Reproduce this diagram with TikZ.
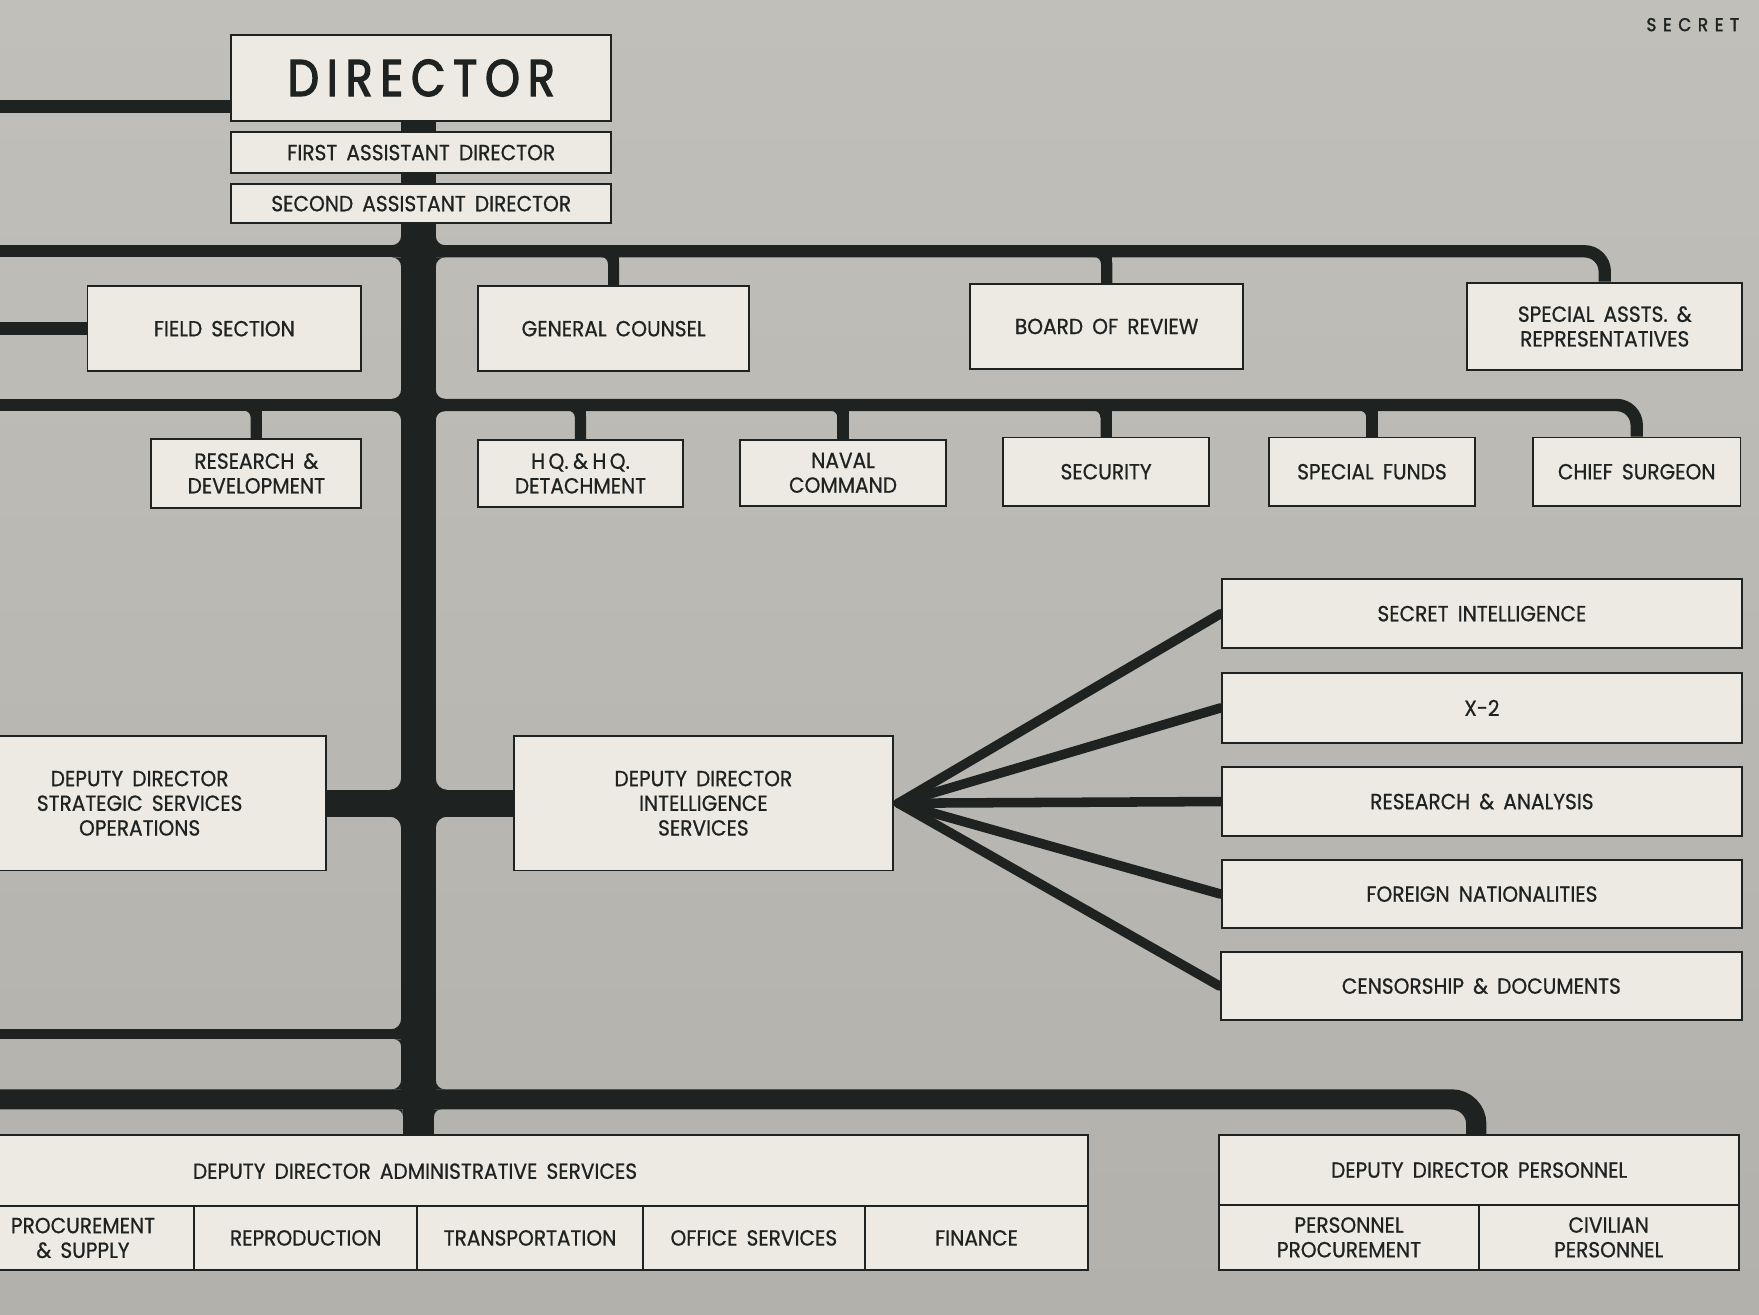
\documentclass[tikz,border=0pt]{standalone}
\usepackage{fontspec}
\setmainfont{Poppins}[WordSpace=1.7, FakeBold=0.7, FakeStretch=0.92]
\newfontfamily\headfont{Poppins}[FakeBold=2.6, FakeStretch=0.86]
\newfontfamily\stampfont{Poppins}[FakeBold=2, FakeStretch=0.9]
\usetikzlibrary{calc}
\definecolor{paper}{HTML}{B3B1AB}
\definecolor{paperlight}{HTML}{C1BFB9}
\definecolor{card}{HTML}{ECEAE2}
\definecolor{ink}{HTML}{1E2220}
\pgfdeclarelayer{paperlayer}
\pgfdeclarelayer{wires}
\pgfsetlayers{paperlayer,wires,main}
% concave fillet where a bar meets the trunk: corner x, corner y, x-direction, y-direction, radius
\newcommand\jfil[5]{\fill[ink] (#1,#2) -- ({#1+(#3)*(#5)},#2) .. controls ({#1+(#3)*(#5)*0.448},#2) and (#1,{#2+(#4)*(#5)*0.448}) .. (#1,{#2+(#4)*(#5)}) -- cycle;}
\newcommand\lbl{\fontsize{19.5}{22}\selectfont}
\tikzset{
  box/.style={draw=ink, line width=1.7pt, fill=card, inner sep=0pt, align=center, text=ink, font=\lbl},
  txt/.style={inner sep=0pt, align=center, text=ink, font=\lbl},
  trunkline/.style={draw=ink, line width=31pt},
  footline/.style={draw=ink, line width=28pt},
  busline/.style={draw=ink, line width=11pt},
  twig/.style={draw=ink, line width=10pt},
  feed/.style={draw=ink, line width=12pt},
  heavybar/.style={draw=ink, line width=24pt},
  fanline/.style={draw=ink, line width=8.5pt, line cap=round},
  thinbar/.style={draw=ink, line width=9pt},
  basebar/.style={draw=ink, line width=18pt},
}
\begin{document}
\begin{tikzpicture}[x=1pt,y=-1pt]
\useasboundingbox (0,0) rectangle (1568,1172);
\clip (0,0) rectangle (1568,1172);
\begin{pgfonlayer}{paperlayer}
  \shade[top color=paperlight, bottom color=paper] (0,0) rectangle (1568,1172);
\end{pgfonlayer}

\node[text=ink, font=\stampfont\fontsize{16.5}{16.5}\selectfont] (secret) at (1509,22)
  {S\kern6pt E\kern6pt C\kern6pt R\kern6pt E\kern6pt T};

% director group
\node[box, minimum width=339pt, minimum height=77pt, font=\headfont\fontsize{46}{46}\selectfont] (DIR) at (375.5,69.5)
  {D\kern7pt I\kern7pt R\kern7pt E\kern7pt C\kern7pt T\kern7pt O\kern7pt R};
\node[box, minimum width=339pt, minimum height=36pt] (FAD) at (375.5,136) {FIRST ASSISTANT DIRECTOR};
\node[box, minimum width=339pt, minimum height=35pt] (SAD) at (375.5,181.5) {SECOND ASSISTANT DIRECTOR};

% first row
\node[box, minimum width=244pt, minimum height=76pt] (FS) at (200,293) {FIELD SECTION};
\node[box, minimum width=242pt, minimum height=76pt] (GC) at (547,293) {GENERAL COUNSEL};
\node[box, minimum width=243pt, minimum height=76pt] (BR) at (986.5,291) {BOARD OF REVIEW};
\node[box, minimum width=245pt, minimum height=78pt] (SA) at (1430.5,291) {SPECIAL ASSTS. \&\\REPRESENTATIVES};

% second row
\node[box, minimum width=187pt, minimum height=62pt] (RD) at (228.5,422) {RESEARCH \&\\DEVELOPMENT};
\node[box, minimum width=183pt, minimum height=60pt] (HQ) at (517.5,422) {H\kern3pt Q.\kern4pt\&\kern4pt H\kern3pt Q.\\DETACHMENT};
\node[box, minimum width=183pt, minimum height=59pt] (NC) at (751.5,421.5) {NAVAL\\COMMAND};
\node[box, minimum width=184pt, minimum height=61pt] (SE) at (986,420.5) {SECURITY};
\node[box, minimum width=184pt, minimum height=61pt] (SF) at (1223,420.5) {SPECIAL FUNDS};
\node[box, minimum width=185pt, minimum height=61pt] (CS) at (1459,420.5) {CHIEF SURGEON};

% deputy directors
\node[box, minimum width=333pt, minimum height=120pt] (SSO) at (124.5,716) {DEPUTY DIRECTOR\\STRATEGIC SERVICES\\OPERATIONS};
\node[box, minimum width=338pt, minimum height=120pt] (DIS) at (627,716) {DEPUTY DIRECTOR\\INTELLIGENCE\\SERVICES};

% intelligence branches
\node[box, minimum width=464pt, minimum height=62pt] (SI) at (1321,547) {SECRET INTELLIGENCE};
\node[box, minimum width=464pt, minimum height=62pt] (X2) at (1321,631) {X-2};
\node[box, minimum width=464pt, minimum height=61pt] (RA) at (1321,714.5) {RESEARCH \& ANALYSIS};
\node[box, minimum width=464pt, minimum height=60pt] (FN) at (1321,797) {FOREIGN NATIONALITIES};
\node[box, minimum width=465pt, minimum height=60pt] (CD) at (1320.5,879) {CENSORSHIP \& DOCUMENTS};

% administrative services
\node[box, minimum width=973pt, minimum height=63pt] (ADM) at (483.5,1043.5) {};
\node[txt] (ADMt) at (370,1044) {DEPUTY DIRECTOR ADMINISTRATIVE SERVICES};
\node[box, minimum width=176pt, minimum height=57pt] (PS) at (85,1103.5) {};
\node[txt] (PSt) at (74,1103.5) {PROCUREMENT\\\& SUPPLY};
\node[box, minimum width=199pt, minimum height=57pt] (REP) at (272.5,1103.5) {REPRODUCTION};
\node[box, minimum width=201pt, minimum height=57pt] (TRA) at (472.5,1103.5) {TRANSPORTATION};
\node[box, minimum width=198pt, minimum height=57pt] (OFF) at (672,1103.5) {OFFICE SERVICES};
\node[box, minimum width=199pt, minimum height=57pt] (FIN) at (870.5,1103.5) {FINANCE};

% personnel
\node[box, minimum width=463pt, minimum height=62pt] (PER) at (1318.5,1043) {DEPUTY DIRECTOR PERSONNEL};
\node[box, minimum width=231pt, minimum height=58pt] (PP) at (1202.5,1103) {PERSONNEL\\PROCUREMENT};
\node[box, minimum width=232pt, minimum height=58pt] (CP) at (1434,1103) {CIVILIAN\\PERSONNEL};

\begin{pgfonlayer}{wires}
  % trunk
  \coordinate (tt) at (373,108);
  \coordinate (tf) at (373,980);
  \coordinate (tb) at (ADM.north -| tt);
  \draw[trunkline] (tt) -- (tf);
  \draw[footline] (tf) -- (tb);

  % feeds entering from the left edge
  \coordinate (dl) at (-5,95);
  \draw[feed] (dl) -- (dl -| DIR.west);
  \coordinate (fl) at (-5,293);
  \draw[feed] (fl) -- (FS.west);

  % first bus
  \coordinate (b1w) at (-5,224);
  \coordinate (b1c) at (373,224);
  \draw[busline] (b1w) -- (b1c);
  \draw[busline, rounded corners=18pt] (b1c) -| (SA.north);
  \foreach \n in {GC,BR}{
    \draw[twig, rounded corners=11pt] ($(\n.north |- b1c)+(-18,0)$) -| (\n.north);
    \draw[twig] (\n.north |- b1c) -- (\n.north);
  }

  % second bus
  \coordinate (b2w) at (-5,361);
  \coordinate (b2c) at (373,361);
  \draw[busline] (b2w) -- (b2c);
  \draw[busline, rounded corners=18pt] (b2c) -| (CS.north);
  \foreach \n in {RD,HQ,NC,SE,SF}{
    \draw[twig, rounded corners=11pt] ($(\n.north |- b2c)+(-18,0)$) -| (\n.north);
    \draw[twig] (\n.north |- b2c) -- (\n.north);
  }

  % deputy directors on the trunk
  \coordinate (mid) at (373,716);
  \draw[heavybar] (SSO.east) -- (mid) -- (DIS.west);

  % fan to the intelligence branches
  \foreach \n in {SI,X2,RA,FN,CD}{
    \draw[fanline] ($(DIS.east)+(4,0)$) -- (\n.west);
  }

  % lower feeds
  \coordinate (l1) at (-5,922);
  \draw[thinbar] (l1) -- (l1 -| tt);
  \coordinate (l2) at (-5,980);
  \draw[basebar, rounded corners=22pt] (l2) -| ([xshift=-2.5pt]PER.north);

  % fillets at the trunk
  \foreach \y/\h/\r in {224/5.5/8, 361/5.5/8, 716/12/10}{
    \jfil{357.5}{\y-\h}{-1}{-1}{\r}
    \jfil{357.5}{\y+\h}{-1}{1}{\r}
    \jfil{388.5}{\y-\h}{1}{-1}{\r}
    \jfil{388.5}{\y+\h}{1}{1}{\r}
  }
  \jfil{357.5}{971}{-1}{-1}{8}
  \jfil{388.5}{971}{1}{-1}{8}
  \jfil{359}{989}{-1}{1}{6}
  \jfil{387}{989}{1}{1}{6}
  \jfil{357.5}{917.5}{-1}{-1}{9}
  \jfil{357.5}{926.5}{-1}{1}{6}
\end{pgfonlayer}
\end{tikzpicture}
\end{document}
